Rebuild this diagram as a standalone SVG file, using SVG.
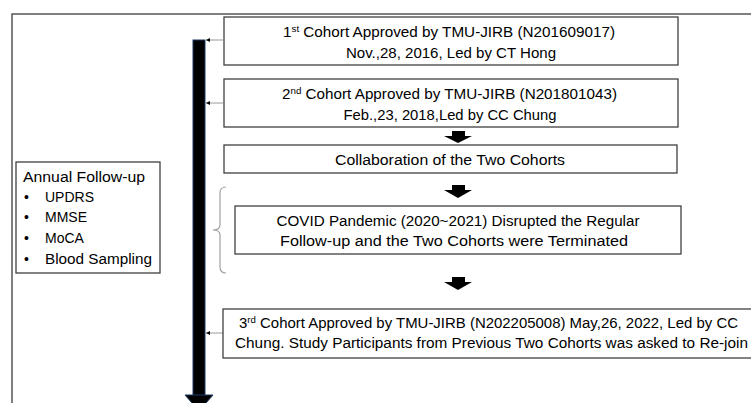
<svg xmlns="http://www.w3.org/2000/svg" width="751" height="403" viewBox="0 0 751 403">
<defs>
<style>
.box{fill:#fff;stroke:#404040;stroke-width:1.3}
.t{font-family:"Liberation Sans",Arial,sans-serif;font-size:14px;fill:#000}
.sup{font-size:9px}
.conn{stroke:#999;stroke-width:1;fill:none}
.blk{fill:#000}
</style>
<marker id="ah" viewBox="0 0 6 6" refX="6" refY="3" markerWidth="4" markerHeight="4" orient="auto"><path d="M0,0 L6,3 L0,6 z" fill="#000"/></marker>
</defs>
<rect width="751" height="403" fill="#fff"/>
<g id="frame" fill="none" stroke="#555" stroke-width="1.5">
<path d="M12,403 L12,14 L751,14"/>
</g>
<g id="timeline">
<rect x="193" y="40" width="12" height="356" fill="#000" stroke="#1f3864" stroke-width="1"/>
<polygon points="185,395 213,395 199,411" fill="#000" stroke="#1f3864" stroke-width="1"/>
</g>
<g id="connectors">
<line class="conn" x1="223" y1="40" x2="206" y2="40" marker-end="url(#ah)"/>
<line class="conn" x1="223" y1="103" x2="206" y2="103" marker-end="url(#ah)"/>
<line class="conn" x1="223" y1="333" x2="206" y2="333" marker-end="url(#ah)"/>
<polygon class="blk" points="452,131 465,131 465,136 472,136 458,143 444,136 452,136"/>
<polygon class="blk" points="452,185 465,185 465,190 472,190 458,198 444,190 452,190"/>
<polygon class="blk" points="452,277 465,277 465,282 472,282 458,290 444,282 452,282"/>
<path d="M226,187 Q220,187 220,193 L220,225 Q220,230 213,230 Q220,230 220,235 L220,267 Q220,273 226,273" fill="none" stroke="#a0a0a0" stroke-width="1.2"/>
</g>
<g id="n1">
<rect class="box" x="224" y="17" width="454" height="48"/>
<text class="t" x="283" y="37" textLength="332" lengthAdjust="spacingAndGlyphs">1<tspan class="sup" dy="-5">st</tspan><tspan dy="5"> Cohort Approved by TMU-JIRB (N201609017)</tspan></text>
<text class="t" x="451" y="58" text-anchor="middle" textLength="210" lengthAdjust="spacingAndGlyphs">Nov.,28, 2016, Led by CT Hong</text>
</g>
<g id="n2">
<rect class="box" x="224" y="79" width="454" height="48"/>
<text class="t" x="282" y="99" textLength="335" lengthAdjust="spacingAndGlyphs">2<tspan class="sup" dy="-5">nd</tspan><tspan dy="5"> Cohort Approved by TMU-JIRB (N201801043)</tspan></text>
<text class="t" x="450" y="120" text-anchor="middle" textLength="213" lengthAdjust="spacingAndGlyphs">Feb.,23, 2018,Led by CC Chung</text>
</g>
<g id="n3">
<rect class="box" x="224" y="145" width="453" height="28"/>
<text class="t" x="450" y="165" text-anchor="middle" textLength="230" lengthAdjust="spacingAndGlyphs">Collaboration of the Two Cohorts</text>
</g>
<g id="n4">
<rect class="box" x="235" y="206" width="446" height="48"/>
<text class="t" x="458" y="226" text-anchor="middle" textLength="363" lengthAdjust="spacingAndGlyphs">COVID Pandemic (2020~2021) Disrupted the Regular</text>
<text class="t" x="454" y="246" text-anchor="middle" textLength="348" lengthAdjust="spacingAndGlyphs">Follow-up and the Two Cohorts were Terminated</text>
</g>
<g id="n5">
<rect class="box" x="223" y="309" width="540" height="49"/>
<text class="t" x="239" y="328" textLength="499" lengthAdjust="spacingAndGlyphs">3<tspan class="sup" dy="-5">rd</tspan><tspan dy="5"> Cohort Approved by TMU-JIRB (N202205008) May,26, 2022, Led by CC</tspan></text>
<text class="t" x="235" y="348" textLength="513" lengthAdjust="spacingAndGlyphs">Chung. Study Participants from Previous Two Cohorts was asked to Re-join</text>
</g>
<g id="followup">
<rect class="box" x="16" y="162" width="144" height="111"/>
<text class="t" x="23" y="182" textLength="122" lengthAdjust="spacingAndGlyphs">Annual Follow-up</text>
<g class="t">
<text class="t" x="24" y="202">•</text><text class="t" x="45" y="202">UPDRS</text>
<text class="t" x="24" y="222">•</text><text class="t" x="45" y="222">MMSE</text>
<text class="t" x="24" y="243">•</text><text class="t" x="45" y="243">MoCA</text>
<text class="t" x="24" y="264">•</text><text class="t" x="45" y="264" textLength="107" lengthAdjust="spacingAndGlyphs">Blood Sampling</text>
</g>
</g>
</svg>
